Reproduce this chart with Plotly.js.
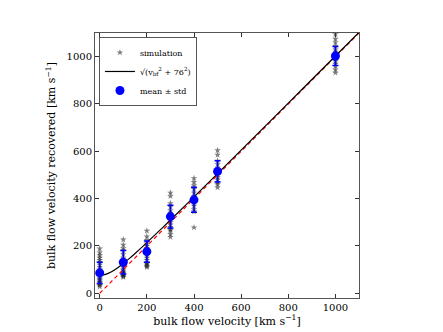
<!DOCTYPE html>
<html>
<head>
<meta charset="utf-8">
<script src="https://cdn.plot.ly/plotly-3.0.1.min.js"></script>
<style>html,body{margin:0;padding:0;background:#fff;}#chart{width:443px;height:332px;}</style>
</head>
<body>
<div id="chart"></div>
<script>
// Input bulk flow velocities
const inputVel = [0, 100, 200, 300, 400, 500, 1000];
// Simulated recovered velocities per input
const sim0 = [189, 172, 160, 150, 140, 132, 120, 110, 100, 92, 85, 75, 65, 55, 48, 40, 35, 28, 45, 60];
const sim100 = [227, 205, 190, 180, 165, 150, 140, 130, 120, 110, 100, 95, 88, 80, 75, 68, 72, 85];
const sim200 = [264, 240, 225, 210, 200, 190, 180, 170, 160, 150, 140, 130, 120, 110, 115, 125];
const sim300 = [425, 410, 380, 365, 350, 340, 330, 320, 310, 300, 290, 280, 265, 250, 238, 270];
const sim400 = [486, 470, 455, 440, 425, 410, 400, 390, 380, 370, 355, 345, 278];
const sim500 = [604, 585, 560, 545, 530, 520, 510, 500, 490, 480, 470, 460, 447];
const sim1000 = [1094, 1075, 1060, 1045, 1030, 1020, 1010, 1000, 990, 980, 970, 960, 945, 932];
// Mean and std of recovered velocity
const meanVel = [86, 131, 176, 324, 395, 515, 1003];
const stdVel = [45, 50, 45, 48, 53, 45, 40];
// Model curve sqrt(v^2 + 76^2), tabulated
const curveX = [0, 25, 50, 75, 100, 125, 150, 200, 250, 300, 400, 500, 600, 800, 1000, 1100];
const curveY = [76, 80.0, 91.0, 106.8, 125.6, 146.3, 168.2, 214.0, 261.3, 309.5, 407.2, 505.7, 604.8, 803.6, 1002.9, 1102.6];
// One-to-one line
const identX = [0, 1100];
const identY = [0, 1100];

const simGroups = [sim0, sim100, sim200, sim300, sim400, sim500, sim1000];
const simX = [], simY = [];
simGroups.forEach((g, i) => g.forEach(v => { simX.push(inputVel[i]); simY.push(v); }));

const font = 'DejaVu Serif, Liberation Serif, serif';

const traces = [
  {x: simX, y: simY, type: 'scatter', mode: 'markers', name: 'simulation',
   marker: {symbol: 'star', size: 5, color: 'rgba(20,20,20,0.55)', line: {width: 0}}},
  {x: identX, y: identY, type: 'scatter', mode: 'lines', showlegend: false,
   line: {color: 'red', width: 1.2, dash: '4px,3px'}},
  {x: curveX, y: curveY, type: 'scatter', mode: 'lines', line: {shape: 'spline', color: 'black', width: 1.2},
   name: '√(v<sub>bf</sub><sup>2</sup> + 76<sup>2</sup>)'},
  {x: inputVel, y: meanVel, type: 'scatter', mode: 'markers', name: 'mean ± std',
   marker: {symbol: 'circle', size: 9, color: 'blue'},
   error_y: {type: 'data', array: stdVel, visible: true, color: 'blue', thickness: 1.5, width: 3}}
];

const axisCommon = {
  range: [-20, 1100], tickvals: [0, 200, 400, 600, 800, 1000],
  ticks: 'inside', ticklen: 4, tickcolor: '#333', mirror: 'ticks',
  showline: true, linecolor: '#555', linewidth: 1, showgrid: false, zeroline: false,
  tickfont: {family: font, size: 10, color: '#000'}
};

const layout = {
  width: 443, height: 332,
  margin: {l: 95, r: 84, t: 33, b: 34},
  paper_bgcolor: '#fff', plot_bgcolor: '#fff',
  font: {family: font, color: '#000'},
  xaxis: Object.assign({}, axisCommon, {title: {text: 'bulk flow velocity [km s<sup>−1</sup>]', font: {family: font, size: 11}, standoff: 2}}),
  yaxis: Object.assign({}, axisCommon, {title: {text: 'bulk flow velocity recovered [km s<sup>−1</sup>]', font: {family: font, size: 11}, standoff: 8}}),
  legend: {x: 0.015, y: 0.985, xanchor: 'left', yanchor: 'top', bgcolor: '#fff',
           bordercolor: '#555', borderwidth: 1, font: {family: font, size: 8}, itemwidth: 30, tracegroupgap: 0},
  showlegend: true
};

Plotly.newPlot('chart', traces, layout, {displayModeBar: false, staticPlot: true});
</script>
</body>
</html>
